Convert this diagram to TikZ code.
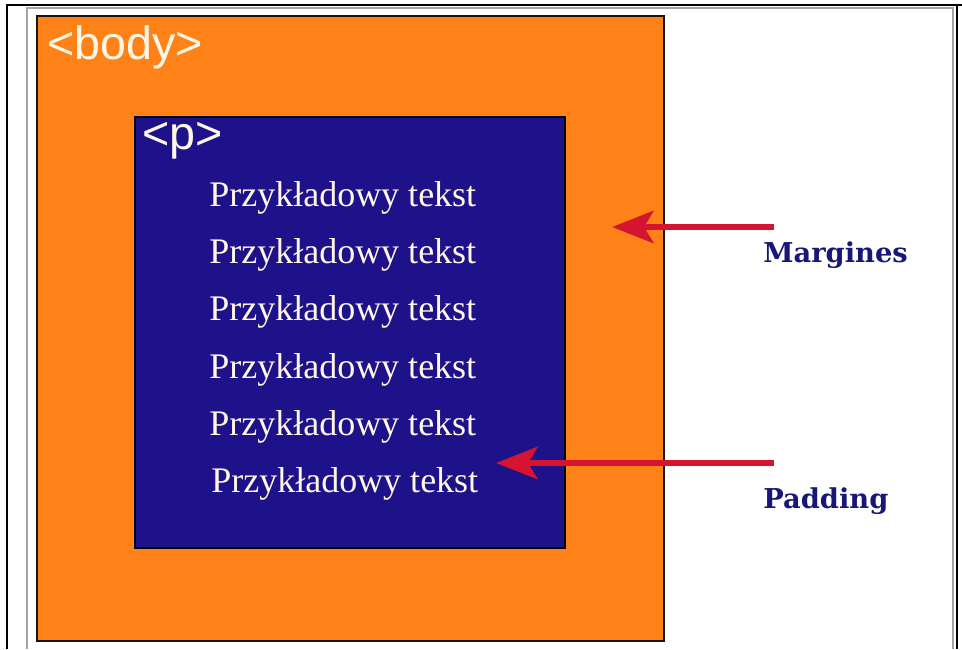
\documentclass[tikz,border=0pt]{standalone}
\usepackage{fontspec}
\setmainfont{Liberation Serif}
\setsansfont{Liberation Sans}
\newfontfamily\labelfont{DejaVu Serif}
\usetikzlibrary{arrows.meta}
\definecolor{boxorange}{RGB}{255,130,25}
\definecolor{boxblue}{RGB}{30,18,138}
\definecolor{cream}{RGB}{255,246,228}
\definecolor{navy}{RGB}{24,22,118}
\definecolor{arrowred}{RGB}{212,20,48}
\definecolor{cellgray}{RGB}{165,165,165}
\tikzset{
  frameline/.style={black, line width=2.2pt},
  cellline/.style={cellgray, line width=0.8pt},
  outerbox/.style={fill=boxorange, draw=black!85!brown, line width=1.2pt},
  innerbox/.style={fill=boxblue, draw=black, line width=1.2pt},
  tagtext/.style={text=cream, font=\sffamily\fontsize{35}{40}\selectfont, inner sep=0pt, anchor=base west},
  sampletext/.style={text=cream, font=\rmfamily\fontsize{27}{30}\selectfont, inner sep=0pt, anchor=base west},
  labeltext/.style={text=navy, font=\labelfont\bfseries\fontsize{20.5}{24}\selectfont, inner sep=0pt, anchor=base west},
  pointer/.style={arrowred, line width=5.2pt, -{Stealth[length=31pt, width=24pt, inset=7pt]}}
}
\begin{document}
\begin{tikzpicture}[x=0.75pt, y=-0.75pt]
\useasboundingbox (0,0) rectangle (962,649);
% table cell frame
\draw[cellline] (27,649) -- (27,8) -- (953,8) -- (953,649);
\draw[frameline] (7,649) -- (7,5) -- (962,5);
\draw[frameline] (957,5) -- (957,649);
% boxes
\draw[outerbox] (37,16) rectangle (664,641);
\draw[innerbox] (135,117) rectangle (565,548);
% tags
\node[tagtext] (body) at (47,60) {<body>};
\node[tagtext] (ptag) at (142,149) {<p>};
% sample lines
\node[sampletext] (l1) at (209,206) {Przykładowy tekst};
\node[sampletext] (l2) at (209,263) {Przykładowy tekst};
\node[sampletext] (l3) at (209,320) {Przykładowy tekst};
\node[sampletext] (l4) at (209,378) {Przykładowy tekst};
\node[sampletext] (l5) at (209,435) {Przykładowy tekst};
\node[sampletext] (l6) at (211,492) {Przykładowy tekst};
% labels
\node[labeltext] (marg) at (763,262) {Margines};
\node[labeltext] (padd) at (763,508) {Padding};
% arrows
\coordinate (mstart) at (774,227);
\coordinate (mtip) at (612,227);
\coordinate (pstart) at (774,463);
\coordinate (ptip) at (496,463);
\draw[pointer] (mstart) -- (mtip);
\draw[pointer] (pstart) -- (ptip);
\end{tikzpicture}
\end{document}
